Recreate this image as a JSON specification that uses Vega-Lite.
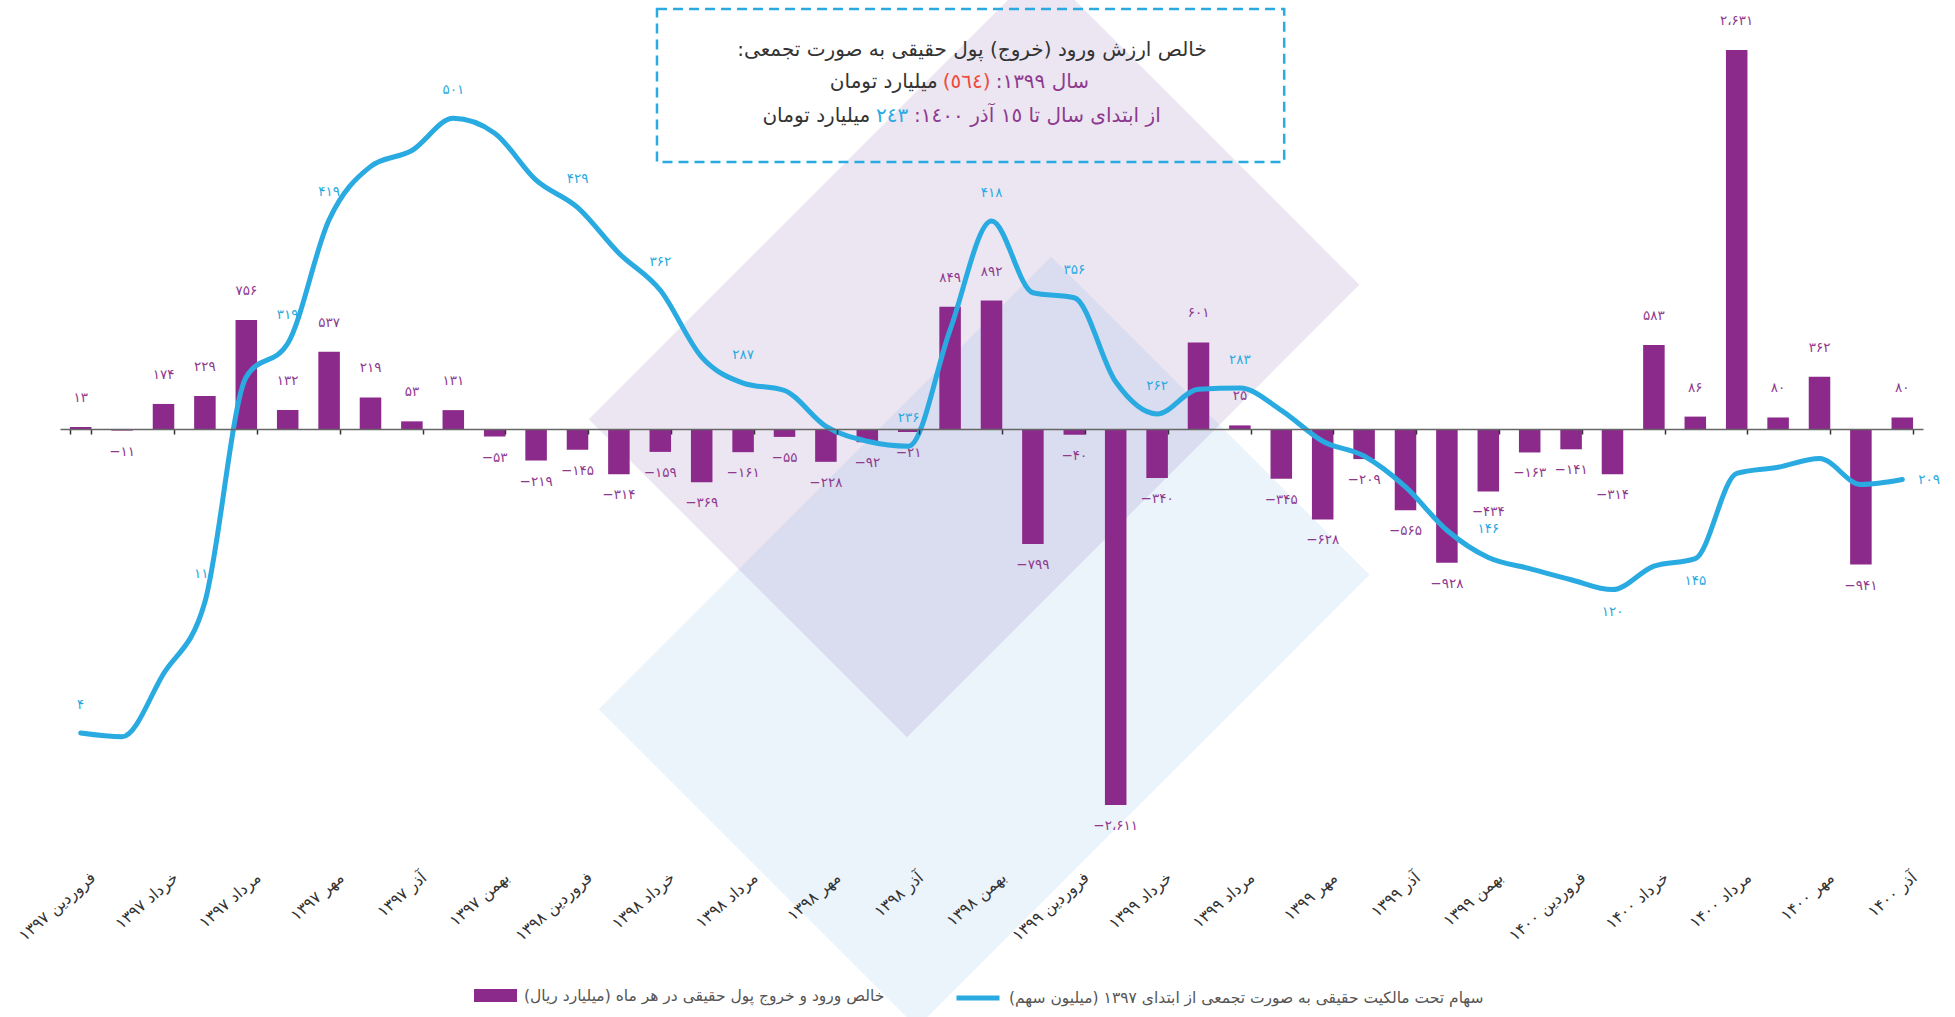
{
  "$schema": "https://vega.github.io/schema/vega-lite/v6.json",
  "width": 1863,
  "height": 860,
  "autosize": {"type": "none"},
  "padding": {"left": 60, "top": 0, "right": 32, "bottom": 157},
  "background": "white",
  "config": {
    "view": {"stroke": null},
    "font": "DejaVu Sans",
    "locale": {
      "number": {
        "decimal": "٫",
        "thousands": "،",
        "grouping": [3],
        "currency": ["", ""],
        "numerals": ["۰", "۱", "۲", "۳", "۴", "۵", "۶", "۷", "۸", "۹"],
        "minus": "−"
      }
    }
  },
  "datasets": {
    "main": [
      {"month": "فروردین ۱۳۹۷", "flow": 13, "shares": 4},
      {"month": "اردیبهشت ۱۳۹۷", "flow": -11, "shares": 1},
      {"month": "خرداد ۱۳۹۷", "flow": 174, "shares": 52},
      {"month": "تیر ۱۳۹۷", "flow": 229, "shares": 110},
      {"month": "مرداد ۱۳۹۷", "flow": 756, "shares": 292},
      {"month": "شهریور ۱۳۹۷", "flow": 132, "shares": 319},
      {"month": "مهر ۱۳۹۷", "flow": 537, "shares": 419},
      {"month": "آبان ۱۳۹۷", "flow": 219, "shares": 462},
      {"month": "آذر ۱۳۹۷", "flow": 53, "shares": 475},
      {"month": "دی ۱۳۹۷", "flow": 131, "shares": 501},
      {"month": "بهمن ۱۳۹۷", "flow": -53, "shares": 489},
      {"month": "اسفند ۱۳۹۷", "flow": -219, "shares": 451},
      {"month": "فروردین ۱۳۹۸", "flow": -145, "shares": 429},
      {"month": "اردیبهشت ۱۳۹۸", "flow": -314, "shares": 392},
      {"month": "خرداد ۱۳۹۸", "flow": -159, "shares": 362},
      {"month": "تیر ۱۳۹۸", "flow": -369, "shares": 308},
      {"month": "مرداد ۱۳۹۸", "flow": -161, "shares": 287},
      {"month": "شهریور ۱۳۹۸", "flow": -55, "shares": 281},
      {"month": "مهر ۱۳۹۸", "flow": -228, "shares": 252},
      {"month": "آبان ۱۳۹۸", "flow": -92, "shares": 240},
      {"month": "آذر ۱۳۹۸", "flow": -21, "shares": 236},
      {"month": "دی ۱۳۹۸", "flow": 849, "shares": 330},
      {"month": "بهمن ۱۳۹۸", "flow": 892, "shares": 418},
      {"month": "اسفند ۱۳۹۸", "flow": -799, "shares": 360},
      {"month": "فروردین ۱۳۹۹", "flow": -40, "shares": 356},
      {"month": "اردیبهشت ۱۳۹۹", "flow": -2611, "shares": 288},
      {"month": "خرداد ۱۳۹۹", "flow": -340, "shares": 262},
      {"month": "تیر ۱۳۹۹", "flow": 601, "shares": 282},
      {"month": "مرداد ۱۳۹۹", "flow": 25, "shares": 283},
      {"month": "شهریور ۱۳۹۹", "flow": -345, "shares": 265},
      {"month": "مهر ۱۳۹۹", "flow": -628, "shares": 240},
      {"month": "آبان ۱۳۹۹", "flow": -209, "shares": 228},
      {"month": "آذر ۱۳۹۹", "flow": -565, "shares": 203},
      {"month": "دی ۱۳۹۹", "flow": -928, "shares": 168},
      {"month": "بهمن ۱۳۹۹", "flow": -434, "shares": 146},
      {"month": "اسفند ۱۳۹۹", "flow": -163, "shares": 137},
      {"month": "فروردین ۱۴۰۰", "flow": -141, "shares": 128},
      {"month": "اردیبهشت ۱۴۰۰", "flow": -314, "shares": 120},
      {"month": "خرداد ۱۴۰۰", "flow": 583, "shares": 139},
      {"month": "تیر ۱۴۰۰", "flow": 86, "shares": 145},
      {"month": "مرداد ۱۴۰۰", "flow": 2631, "shares": 214},
      {"month": "شهریور ۱۴۰۰", "flow": 80, "shares": 219},
      {"month": "مهر ۱۴۰۰", "flow": 362, "shares": 226},
      {"month": "آبان ۱۴۰۰", "flow": -941, "shares": 205},
      {"month": "آذر ۱۴۰۰", "flow": 80, "shares": 209}
    ]
  },
  "layer": [
    {
      "layer": [
        {
          "data": {"values": [{"x": 22.08, "y": 535}]},
          "mark": {"type": "point", "shape": "M-1,-0.703L1,-0.703L1,0.703L-1,0.703Z", "size": 409600, "angle": -45, "filled": true, "fill": "#7b4fa0", "fillOpacity": 0.14, "strokeWidth": 0},
          "encoding": {
            "x": {"field": "x", "type": "quantitative", "scale": {"domain": [0, 45], "nice": false, "zero": false}, "axis": null},
            "y": {"field": "y", "type": "quantitative", "scale": {"domain": [-2993, 2979], "nice": false, "zero": false}, "axis": null}
          }
        },
        {
          "data": {"values": [{"x": 22.32, "y": -1479}]},
          "mark": {"type": "point", "shape": "M-1,-0.703L1,-0.703L1,0.703L-1,0.703Z", "size": 409600, "angle": -45, "filled": true, "fill": "#4a90d9", "fillOpacity": 0.11, "strokeWidth": 0},
          "encoding": {
            "x": {"field": "x", "type": "quantitative", "scale": {"domain": [0, 45], "nice": false, "zero": false}, "axis": null},
            "y": {"field": "y", "type": "quantitative", "scale": {"domain": [-2993, 2979], "nice": false, "zero": false}, "axis": null}
          }
        },
        {
          "data": {"values": [{"x": 14.42, "x2": 29.57, "y": 2917, "y2": 1854}]},
          "mark": {"type": "rect", "fill": "white", "fillOpacity": 0, "stroke": "#29aae1", "strokeWidth": 2.5, "strokeDash": [10, 6]},
          "encoding": {
            "x": {"field": "x", "type": "quantitative", "scale": {"domain": [0, 45], "nice": false, "zero": false}, "axis": null},
            "x2": {"field": "x2"},
            "y": {"field": "y", "type": "quantitative", "scale": {"domain": [-2993, 2979], "nice": false, "zero": false}, "axis": null},
            "y2": {"field": "y2"}
          }
        },
        {
          "data": {"values": [
            {"t": "خالص ارزش ورود (خروج) پول حقیقی به صورت تجمعی:‏", "x": 22.03, "y": 2632, "kind": "text"},
            {"t": "‏(٥٦٤)‏", "x": 21.9, "y": 2410, "kind": "loss"},
            {"t": "٢٤٣", "x": 20.1, "y": 2174, "kind": "gain"}
          ]},
          "mark": {"type": "text", "align": "center", "baseline": "middle", "fontSize": 20, "font": "DejaVu Sans"},
          "encoding": {
            "x": {"field": "x", "type": "quantitative", "scale": {"domain": [0, 45], "nice": false, "zero": false}, "axis": null},
            "y": {"field": "y", "type": "quantitative", "scale": {"domain": [-2993, 2979], "nice": false, "zero": false}, "axis": null},
            "text": {"field": "t"},
            "color": {"field": "kind", "type": "nominal", "scale": {"domain": ["text", "year", "loss", "gain"], "range": ["#333333", "#8e3a8e", "#ef4b3a", "#29aae1"]}, "legend": null}
          }
        },
        {
          "data": {"values": [
            {"t": "سال ١٣٩٩:‏", "x": 22.6, "y": 2410, "kind": "year"},
            {"t": "از ابتدای سال تا ١٥ آذر ١٤٠٠:‏", "x": 20.63, "y": 2174, "kind": "year"}
          ]},
          "mark": {"type": "text", "align": "left", "baseline": "middle", "fontSize": 20, "font": "DejaVu Sans"},
          "encoding": {
            "x": {"field": "x", "type": "quantitative", "scale": {"domain": [0, 45], "nice": false, "zero": false}, "axis": null},
            "y": {"field": "y", "type": "quantitative", "scale": {"domain": [-2993, 2979], "nice": false, "zero": false}, "axis": null},
            "text": {"field": "t"},
            "color": {"field": "kind", "type": "nominal", "scale": {"domain": ["text", "year", "loss", "gain"], "range": ["#333333", "#8e3a8e", "#ef4b3a", "#29aae1"]}, "legend": null}
          }
        },
        {
          "data": {"values": [
            {"t": "میلیارد تومان", "x": 21.2, "y": 2410, "kind": "text"},
            {"t": "میلیارد تومان", "x": 19.57, "y": 2174, "kind": "text"}
          ]},
          "mark": {"type": "text", "align": "right", "baseline": "middle", "fontSize": 20, "font": "DejaVu Sans"},
          "encoding": {
            "x": {"field": "x", "type": "quantitative", "scale": {"domain": [0, 45], "nice": false, "zero": false}, "axis": null},
            "y": {"field": "y", "type": "quantitative", "scale": {"domain": [-2993, 2979], "nice": false, "zero": false}, "axis": null},
            "text": {"field": "t"},
            "color": {"field": "kind", "type": "nominal", "scale": {"domain": ["text", "year", "loss", "gain"], "range": ["#333333", "#8e3a8e", "#ef4b3a", "#29aae1"]}, "legend": null}
          }
        }
      ]
    },
    {
      "data": {"name": "main"},
      "encoding": {
        "x": {
          "field": "month", "type": "nominal", "sort": null,
          "scale": {"paddingInner": 0.48, "paddingOuter": 0.24},
          "axis": {
            "title": null,
            "values": ["فروردین ۱۳۹۷", "خرداد ۱۳۹۷", "مرداد ۱۳۹۷", "مهر ۱۳۹۷", "آذر ۱۳۹۷", "بهمن ۱۳۹۷", "فروردین ۱۳۹۸", "خرداد ۱۳۹۸", "مرداد ۱۳۹۸", "مهر ۱۳۹۸", "آذر ۱۳۹۸", "بهمن ۱۳۹۸", "فروردین ۱۳۹۹", "خرداد ۱۳۹۹", "مرداد ۱۳۹۹", "مهر ۱۳۹۹", "آذر ۱۳۹۹", "بهمن ۱۳۹۹", "فروردین ۱۴۰۰", "خرداد ۱۴۰۰", "مرداد ۱۴۰۰", "مهر ۱۴۰۰", "آذر ۱۴۰۰"],
            "offset": -431,
            "labelPadding": 441,
            "labelAngle": -41,
            "labelAlign": "right",
            "labelBaseline": "middle",
            "labelOffset": 12,
            "labelFont": "DejaVu Sans",
            "labelFontSize": 16,
            "labelColor": "#333333",
            "labelLimit": 300,
            "labelOverlap": false,
            "domainColor": "#666666",
            "domainWidth": 1.5,
            "tickColor": "#333333",
            "tickWidth": 1.5,
            "tickSize": 5,
            "tickBand": "extent",
            "grid": false,
            "zindex": 1
          }
        }
      },
      "layer": [
        {
          "encoding": {
            "y": {"field": "flow", "type": "quantitative", "scale": {"domain": [-2993, 2979], "nice": false, "zero": false}, "axis": null}
          },
          "layer": [
            {
              "mark": {"type": "bar"},
              "encoding": {
                "y2": {"datum": 0},
                "color": {
                  "datum": "خالص ورود و خروج پول حقیقی در هر ماه (میلیارد ریال)‏",
                  "type": "nominal",
                  "scale": {"range": ["#8c2a8c"]},
                  "legend": {
                    "title": null, "orient": "none", "legendX": 414, "legendY": 974,
                    "symbolType": "M-1,-0.3L1,-0.3L1,0.3L-1,0.3Z", "symbolSize": 1849, "symbolStrokeWidth": 0,
                    "labelFont": "DejaVu Sans", "labelFontSize": 15.5, "labelColor": "#555555", "labelLimit": 900, "labelOffset": 7
                  }
                }
              }
            },
            {
              "transform": [{"filter": "datum.flow >= 0"}],
              "mark": {"type": "text", "baseline": "middle", "dy": -29, "fontSize": 13.5, "color": "#8e3a8e", "font": "DejaVu Sans"},
              "encoding": {"text": {"field": "flow", "type": "quantitative", "format": ",d"}}
            },
            {
              "transform": [{"filter": "datum.flow < 0"}],
              "mark": {"type": "text", "baseline": "middle", "dy": 21, "fontSize": 13.5, "color": "#8e3a8e", "font": "DejaVu Sans"},
              "encoding": {"text": {"field": "flow", "type": "quantitative", "format": ",d"}}
            }
          ]
        },
        {
          "encoding": {
            "y": {"field": "shares", "type": "quantitative", "scale": {"domain": [-98.6, 596.7], "nice": false, "zero": false}, "axis": null}
          },
          "layer": [
            {
              "mark": {"type": "line", "strokeWidth": 5, "interpolate": "monotone", "strokeCap": "round"},
              "encoding": {
                "color": {
                  "datum": "سهام تحت مالکیت حقیقی به صورت تجمعی از ابتدای ۱۳۹۷ (میلیون سهم)‏",
                  "type": "nominal",
                  "scale": {"range": ["#29aae1"]},
                  "legend": {
                    "title": null, "orient": "none", "legendX": 894, "legendY": 974,
                    "symbolType": "stroke", "symbolSize": 1849, "symbolStrokeWidth": 5,
                    "labelFont": "DejaVu Sans", "labelFontSize": 15.5, "labelColor": "#555555", "labelLimit": 900, "labelOffset": 7
                  }
                }
              }
            },
            {
              "transform": [{"filter": {"field": "month", "oneOf": ["فروردین ۱۳۹۷", "تیر ۱۳۹۷", "شهریور ۱۳۹۷", "مهر ۱۳۹۷", "دی ۱۳۹۷", "فروردین ۱۳۹۸", "خرداد ۱۳۹۸", "مرداد ۱۳۹۸", "آذر ۱۳۹۸", "بهمن ۱۳۹۸", "فروردین ۱۳۹۹", "خرداد ۱۳۹۹", "مرداد ۱۳۹۹", "بهمن ۱۳۹۹"]}}],
              "mark": {"type": "text", "baseline": "middle", "dy": -28, "fontSize": 13.5, "color": "#29aae1", "font": "DejaVu Sans"},
              "encoding": {"text": {"field": "shares", "type": "quantitative", "format": "d"}}
            },
            {
              "transform": [{"filter": {"field": "month", "oneOf": ["اردیبهشت ۱۴۰۰", "تیر ۱۴۰۰"]}}],
              "mark": {"type": "text", "baseline": "middle", "dy": 22, "fontSize": 13.5, "color": "#29aae1", "font": "DejaVu Sans"},
              "encoding": {"text": {"field": "shares", "type": "quantitative", "format": "d"}}
            },
            {
              "transform": [{"filter": {"field": "month", "oneOf": ["آذر ۱۴۰۰"]}}],
              "mark": {"type": "text", "baseline": "middle", "align": "left", "dx": 16, "fontSize": 13.5, "color": "#29aae1", "font": "DejaVu Sans"},
              "encoding": {"text": {"field": "shares", "type": "quantitative", "format": "d"}}
            }
          ]
        }
      ],
      "resolve": {"scale": {"y": "independent", "color": "independent"}}
    }
  ],
  "resolve": {"scale": {"x": "independent", "y": "independent", "color": "independent"}}
}
